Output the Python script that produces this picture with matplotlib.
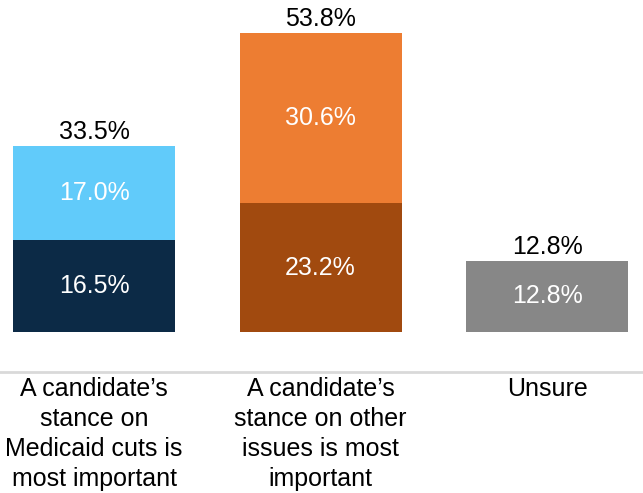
import matplotlib
matplotlib.use("Agg")
import matplotlib.pyplot as plt
from matplotlib import transforms

plt.rcParams['font.family'] = ['Liberation Sans', 'DejaVu Sans']

categories = ["A candidate\u2019s\nstance on\nMedicaid cuts is\nmost important",
              "A candidate\u2019s\nstance on other\nissues is most\nimportant",
              "Unsure"]
bottom_vals = [16.5, 23.2, 12.8]
top_vals = [17.0, 30.6, 0.0]
totals = [33.5, 53.8, 12.8]
bottom_colors = ["#0C2A46", "#A14A0F", "#878787"]
top_colors = ["#61CBFA", "#ED7D32", "#878787"]

fig = plt.figure(figsize=(6.43, 4.93), dpi=100)
ax = fig.add_axes([0, (493 - 372) / 493, 1, 372 / 493])

x = list(range(len(categories)))
w = 162 / 226.5
ax.bar(x, bottom_vals, width=w, color=bottom_colors, linewidth=0)
ax.bar(x, top_vals, width=w, bottom=bottom_vals, color=top_colors, linewidth=0)

for i in x:
    ax.text(i, bottom_vals[i] / 2, f"{bottom_vals[i]:.1f}%", ha='center', va='center',
            color='white', fontsize=18)
    if top_vals[i] > 0:
        ax.text(i, bottom_vals[i] + top_vals[i] / 2, f"{top_vals[i]:.1f}%", ha='center',
                va='center', color='white', fontsize=18)
    ax.annotate(f"{totals[i]:.1f}%", (i, totals[i]), xytext=(0, 4.8), textcoords='offset points',
                ha='center', va='baseline', fontsize=18, color='black')

ax.set_xlim(-94 / 226.5, (643 - 94) / 226.5)
ax.set_ylim(-40 / 5.56, 332 / 5.56)
for s in ['top', 'left', 'right']:
    ax.spines[s].set_visible(False)
ax.spines['bottom'].set_color('#D9D9D9')
ax.spines['bottom'].set_linewidth(2)
ax.set_yticks([])
ax.set_xticks([])

trans = transforms.blended_transform_factory(ax.transData, ax.transAxes)
for i, c in enumerate(categories):
    ax.text(i, -0.014, c, transform=trans, ha='center', va='top', fontsize=18,
            linespacing=1.32, multialignment='center')

fig.savefig("out.png", dpi=100)
